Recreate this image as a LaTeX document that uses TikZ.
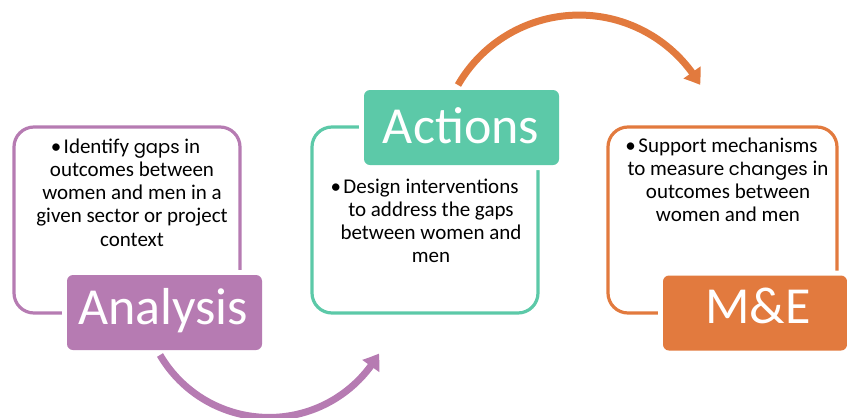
\documentclass[tikz,border=0pt]{standalone}
\usepackage{fontspec}
\setmainfont{Carlito}
\newfontfamily\gfont{Poppins}
\usetikzlibrary{arrows.meta,bending}
\definecolor{cpur}{RGB}{182,123,178}
\definecolor{cteal}{RGB}{92,201,168}
\definecolor{corg}{RGB}{226,122,62}
\tikzset{
  outline/.style={draw=#1, line width=3.2pt, rounded corners=20pt, minimum width=226pt, minimum height=186pt, inner sep=0pt},
  label/.style={fill=#1, preaction={draw=white, line width=10pt, rounded corners=6pt}, rounded corners=6pt, minimum width=195pt, minimum height=75pt, inner sep=0pt},
  title/.style={text=white, font=\fontsize{52}{60}\selectfont, anchor=base, inner sep=0pt},
  body/.style={font=\fontsize{21}{23.3}\selectfont, align=center, anchor=base, inner sep=0pt},
  arc/.style={draw=#1, line width=7pt, -{Triangle[width=20pt,length=15pt,bend]}}
}
\newcommand{\gw}[1]{{\gfont\fontsize{18}{23.3}\selectfont #1}}
\newcommand{\bul}{\llap{•\kern2.5pt}}
\begin{document}
\begin{tikzpicture}[x=1pt,y=-1pt]
\useasboundingbox (0,0) rectangle (847,418);
% outlines
\node[outline=cpur] (aout) at (127,220) {};
\node[outline=cteal] (cout) at (425,220) {};
\node[outline=corg, minimum width=229pt] (mout) at (722.5,220) {};
% labels
\node[label=cpur] (alab) at (164.5,312.5) {};
\node[label=cteal] (clab) at (461.5,127.5) {};
\node[label=corg, minimum width=184pt] (mlab) at (755,313) {};
\node[title] (atit) at (163,324) {Analysis};
\node[title] (ctit) at (461,143) {Actions};
\node[title] (mtit) at (758,323) {M\&E};
% body texts (anchor base = last line)
\node[body] (atxt) at (132,246.2) {\bul Identify \gw{gaps} in\\outcomes between\\women and men in a\\given sector or project\\context};
\node[body] (ctxt) at (431,262.9) {\bul Design interventions\\to address the gaps\\between women and\\men};
\node[body] (mtxt) at (728,221.9) {\bul Support mechanisms\\to measure \gw{changes} in\\outcomes between\\women and men};
% arrows
\coordinate (p1) at (160,355);
\coordinate (o1) at (458,85);
\draw[arc=cpur] (p1) arc[start angle=149.6, end angle=29.6, radius=126.4];
\draw[arc=corg] (o1) arc[start angle=-150, end angle=-30, radius=139.8];
\end{tikzpicture}
\end{document}
